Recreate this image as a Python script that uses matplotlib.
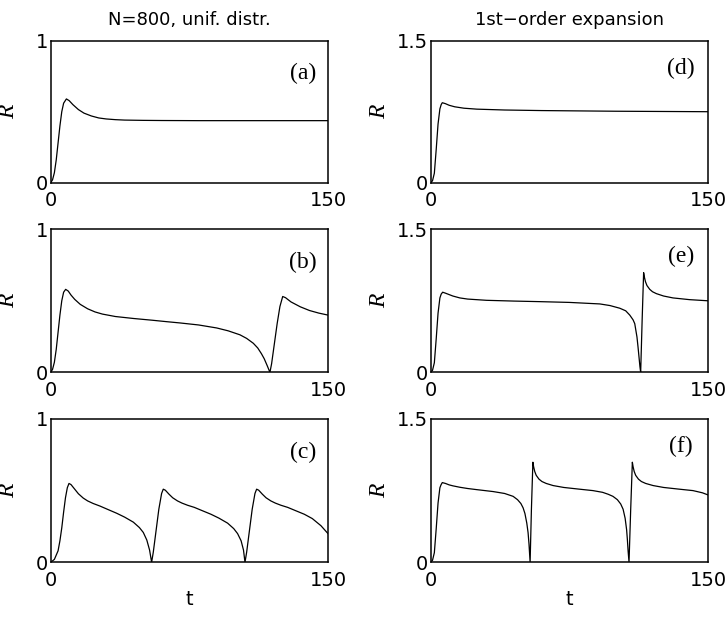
import matplotlib
matplotlib.use("Agg")
import matplotlib.pyplot as plt

plt.rcParams['font.family'] = ['DejaVu Sans']

# values
t_a = [0, 1, 2, 3, 4, 5, 6, 7, 8.5, 10, 12, 15, 18, 22, 26, 30, 35, 40, 50, 60, 80, 100, 150]
R_a = [0, 0.02, 0.07, 0.16, 0.28, 0.40, 0.50, 0.56, 0.59, 0.578, 0.55, 0.515, 0.49, 0.47,
       0.456, 0.449, 0.444, 0.441, 0.439, 0.438, 0.437, 0.437, 0.437]

t_b = [0, 1, 2, 3, 4, 5, 6, 7, 8.1, 9.5, 11, 13, 16, 20, 24, 28, 35, 45, 55, 62.7, 70, 80,
       89.8, 96, 102.4, 106, 109.6, 112, 114, 115.5, 117, 118.6, 119.5, 121, 122.5, 124,
       125.5, 127, 130, 135, 140, 145, 150]
R_b = [0, 0.02, 0.07, 0.16, 0.28, 0.40, 0.50, 0.56, 0.58, 0.568, 0.54, 0.51, 0.475, 0.444,
       0.422, 0.407, 0.39, 0.376, 0.364, 0.354, 0.345, 0.331, 0.31, 0.29, 0.262, 0.237,
       0.203, 0.17, 0.13, 0.095, 0.05, 0, 0.06, 0.2, 0.34, 0.46, 0.53, 0.522, 0.492, 0.458,
       0.432, 0.414, 0.40]

t_c = [0, 2, 4, 5, 6, 7, 8, 9, 9.9, 11, 13, 15, 17.6, 20, 23, 26.7, 31, 35.7, 40, 44.7,
       48, 50.1, 52, 53.5, 54.6,
       55.5, 57, 58.5, 60, 60.9, 62, 64, 66, 68.6, 71, 74, 77.7, 82, 86.7, 91, 95.7, 99,
       101.1, 103, 104.3, 105.1,
       106, 107.5, 109, 110.5, 111.4, 112.5, 114.5, 116.5, 119.1, 121.5, 124.5, 128.2,
       132.5, 137.2, 141.5, 146.2, 150]
R_c = [0, 0.02, 0.08, 0.15, 0.24, 0.35, 0.45, 0.52, 0.55, 0.542, 0.51, 0.478, 0.448, 0.428,
       0.41, 0.392, 0.368, 0.342, 0.315, 0.28, 0.242, 0.208, 0.155, 0.085, 0,
       0.07, 0.22, 0.37, 0.48, 0.51, 0.503, 0.475, 0.45, 0.428, 0.413, 0.398, 0.383, 0.36,
       0.335, 0.308, 0.273, 0.235, 0.2, 0.15, 0.085, 0,
       0.07, 0.22, 0.37, 0.48, 0.51, 0.503, 0.475, 0.45, 0.428, 0.413, 0.398, 0.383, 0.36,
       0.335, 0.305, 0.255, 0.2]

t_d = [0, 1, 2, 3, 4, 5, 5.7, 6.3, 8, 10, 13, 18, 25, 40, 60, 100, 150]
R_d = [0, 0.02, 0.1, 0.35, 0.62, 0.78, 0.825, 0.845, 0.835, 0.818, 0.802, 0.787, 0.777,
       0.768, 0.762, 0.755, 0.75]

t_e = [0, 1, 2, 3, 4, 5, 5.7, 6.5, 8, 10, 12, 15.8, 20, 30.2, 45, 59, 75, 91.5, 97, 102.3,
       105.5, 107.7, 109.5, 110.4, 111.6, 112.2, 112.7, 113.2, 113.6, 114.4, 115.2, 115.6,
       116.2, 117, 118.5, 120, 122.1, 126, 131.1, 140, 150]
R_e = [0, 0.02, 0.1, 0.35, 0.62, 0.78, 0.82, 0.84, 0.83, 0.815, 0.80, 0.78, 0.768, 0.755,
       0.747, 0.741, 0.733, 0.717, 0.70, 0.672, 0.645, 0.60, 0.55, 0.51, 0.37, 0.26, 0.16,
       0.06, 0, 0.55, 1.045, 1.0, 0.95, 0.91, 0.87, 0.845, 0.825, 0.80, 0.78, 0.762, 0.75]

t_f = [0, 1, 2, 3, 4, 5, 5.6, 6.3, 8, 10, 12, 15.8, 20, 25, 33.8, 40, 44.6, 47, 48.8, 50,
       51, 52, 52.7, 53.2, 53.8,
       54.5, 55.3, 55.7, 56.3, 57.1, 58.6, 60.2, 62.5, 66.2, 72, 80, 87.8, 93, 96, 98.6,
       101, 102.8, 104.1, 105.2, 106, 106.4, 106.8, 107.3,
       108.2, 109.1, 109.5, 110.1, 110.9, 112.4, 114, 116.3, 120.3, 126, 134, 141.9, 147,
       150]
R_f = [0, 0.02, 0.1, 0.35, 0.62, 0.78, 0.81, 0.834, 0.825, 0.81, 0.80, 0.785, 0.772, 0.76,
       0.74, 0.72, 0.69, 0.655, 0.615, 0.57, 0.51, 0.41, 0.31, 0.19, 0,
       0.55, 1.047, 1.0, 0.95, 0.91, 0.87, 0.845, 0.825, 0.803, 0.783, 0.766, 0.75, 0.732,
       0.712, 0.69, 0.655, 0.61, 0.555, 0.46, 0.34, 0.24, 0.12, 0,
       0.55, 1.047, 1.0, 0.95, 0.91, 0.87, 0.845, 0.825, 0.803, 0.783, 0.766, 0.75, 0.727,
       0.705]

panels = [
    (t_a, R_a, "(a)", 0, 0),
    (t_b, R_b, "(b)", 1, 0),
    (t_c, R_c, "(c)", 2, 0),
    (t_d, R_d, "(d)", 0, 1),
    (t_e, R_e, "(e)", 1, 1),
    (t_f, R_f, "(f)", 2, 1),
]
ymax = [1, 1.5]
ytick_labels = [["0", "1"], ["0", "1.5"]]
col_titles = ["N=800, unif. distr.", "1st\u2212order expansion"]

fig = plt.figure(figsize=(7.25, 6.17), dpi=100)

lefts = [0.0699, 0.594]
rows = [(0.7039, 0.2301), (0.3966, 0.2318), (0.0887, 0.2323)]
ylab_x = [-0.112, -0.147]
lab_pos = [(0.91, 0.767), (0.902, 0.808)]

for t, R, lab, r, c in panels:
    ax = fig.add_axes([lefts[c], rows[r][0], 0.3825, rows[r][1]])
    ax.plot(t, R, color='black', linewidth=0.9)
    ax.set_xlim(0, 150)
    ax.set_ylim(0, ymax[c])
    ax.set_xticks([0, 150])
    ax.set_xticklabels(["0", "150"])
    ax.set_yticks([0, ymax[c]])
    ax.set_yticklabels(ytick_labels[c])
    ax.tick_params(length=0, labelsize=14)
    ax.tick_params(axis='x', pad=6)
    ax.tick_params(axis='y', pad=2)
    for s in ax.spines.values():
        s.set_linewidth(1.1)
    ax.set_ylabel("R", family='Liberation Serif', style='italic', fontsize=17)
    ax.yaxis.set_label_coords(ylab_x[c], 0.5)
    ax.text(lab_pos[c][0], lab_pos[c][1], lab, transform=ax.transAxes,
            family='Liberation Serif', fontsize=17, ha='center', va='center')
    if r == 0:
        ax.set_title(col_titles[c], fontsize=13, pad=11)
    if r == 2:
        ax.set_xlabel("t", fontsize=14, labelpad=0)

fig.savefig("out.png", dpi=100)
